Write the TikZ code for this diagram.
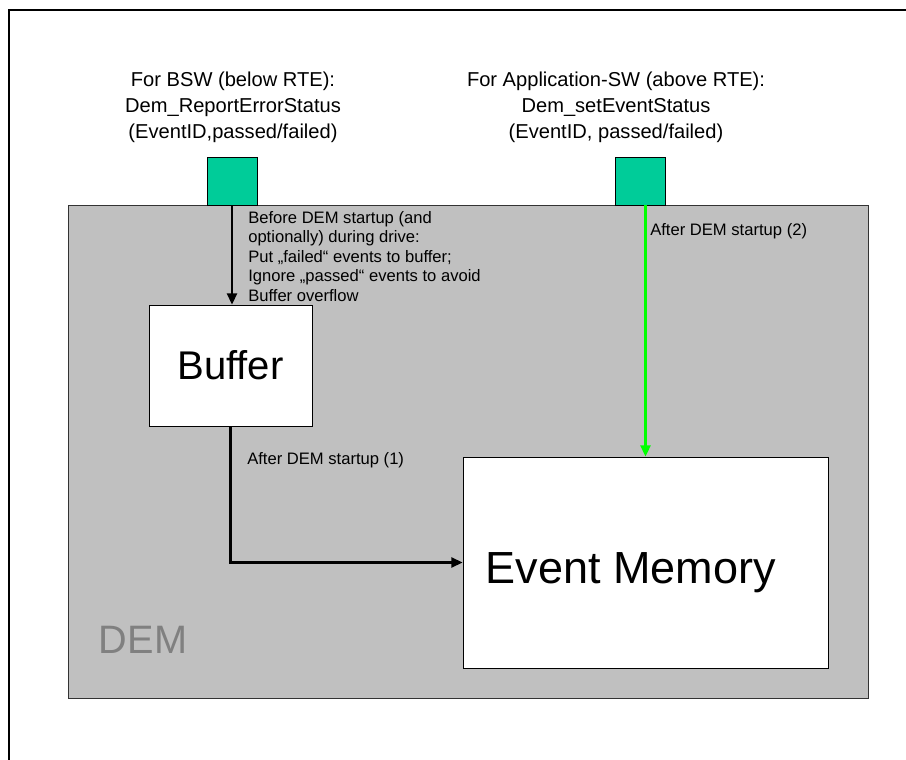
\documentclass[tikz,border=0pt]{standalone}
\usepackage{fontspec}
\setmainfont{Liberation Sans}
\usetikzlibrary{arrows.meta,calc}

\definecolor{demgray}{RGB}{192,192,192}
\definecolor{portgreen}{RGB}{0,204,153}
\definecolor{flowgreen}{RGB}{0,255,0}
\definecolor{labelgray}{RGB}{128,128,128}

\tikzset{
  port/.style={draw=black, fill=portgreen, inner sep=0pt, minimum width=1.25cm, minimum height=1.2cm},
  block/.style={draw=black, fill=white, inner sep=0pt},
  flow/.style={line width=1.7pt, -{Triangle[length=8pt,width=7pt]}},
  calltext/.style={align=center, font=\fontsize{14.3}{18.5}\selectfont},
  notetext/.style={align=left, inner sep=0pt, font=\fontsize{11.8}{13.9}\selectfont}
}

\begin{document}
\begin{tikzpicture}[x=0.025cm,y=-0.025cm]
    \useasboundingbox (0,0) rectangle (906,760);
    \fill[white] (0,0) rectangle (906,760);
    \draw[line width=1.4pt] (8.7,760) |- (906,10);

    % DEM container
    \node[draw=black!80, fill=demgray, inner sep=0pt, minimum width=20cm, minimum height=12.325cm] (dem) at (468,451.5) {};
    \node[anchor=base west, text=labelgray, font=\fontsize{28.2}{30}\selectfont] (demlabel) at (94,653) {DEM};

    % interfaces
    \node[port] (portbsw) at (232,181) {};
    \node[port] (portapp) at (640.5,181) {};
    \node[calltext] (callbsw) at (233,107) {For BSW (below RTE):\\Dem\_ReportErrorStatus\\(EventID,passed/failed)};
    \node[calltext] (callapp) at (616,107) {For Application-SW (above RTE):\\Dem\_setEventStatus\\(EventID, passed/failed)};

    % blocks
    \node[block, minimum width=4.075cm, minimum height=3.025cm, font=\fontsize{28.5}{30}\selectfont] (buffer) at (230.5,365.5) {Buffer};
    \node[block, minimum width=9.125cm, minimum height=5.275cm] (memory) at (645.5,562.5) {};
    \node[font=\fontsize{32}{34}\selectfont] (memorylabel) at (631,573) {Event Memory};

    % flows
    \draw[flow] (portbsw.south) -- (portbsw.south |- buffer.north);
    \draw[flow] (buffer.south) |- (memory.west);
    \draw[flow, color=flowgreen, line width=1.9pt] (memory.north |- portapp.south) -- (memory.north);

    \node[notetext, anchor=north west] (notebuffer) at (248,211) {Before DEM startup (and\\optionally) during drive:\\Put „failed“ events to buffer;\\Ignore „passed“ events to avoid\\Buffer overflow};
    \node[notetext, anchor=west] (notestart1) at (247,460) {After DEM startup (1)};
    \node[notetext, anchor=west] (notestart2) at (650,231) {After DEM startup (2)};
\end{tikzpicture}
\end{document}
